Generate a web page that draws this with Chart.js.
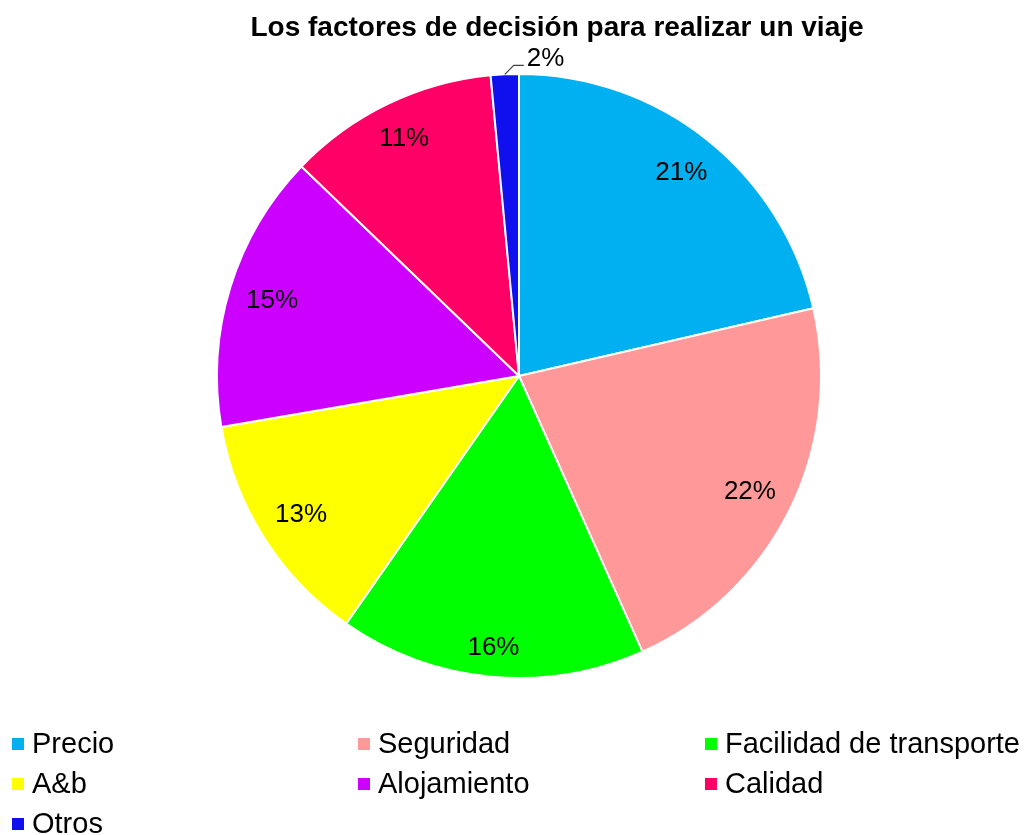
<!DOCTYPE html>
<html>
<head>
<meta charset="utf-8">
<script src="https://cdn.jsdelivr.net/npm/chart.js@4/dist/chart.umd.min.js"></script>
<style>
  html, body { margin: 0; padding: 0; background: #fff; }
  #wrap { position: relative; width: 1027px; height: 835px; overflow: hidden; font-family: "Liberation Sans", Arial, sans-serif; }
  #box { position: absolute; left: 0; top: 0; width: 1027px; height: 835px; }
  #title { position: absolute; left: 557px; top: 13px; transform: translateX(-50%); white-space: nowrap;
           font-weight: bold; font-size: 28px; line-height: 28px; color: #000; }
  .lg { position: absolute; white-space: nowrap; font-size: 29px; line-height: 29px; color: #000; }
  .mk { position: absolute; width: 12px; height: 12px; }
</style>
</head>
<body>
<div id="wrap">
  <div id="box"><canvas id="c"></canvas></div>
  <div id="title"></div>
  <div id="legend"></div>
</div>
<script>
const titleText = "Los factores de decisión para realizar un viaje";
const categories = ["Precio", "Seguridad", "Facilidad de transporte", "A&b", "Alojamiento", "Calidad", "Otros"];
const shares = [21.4, 21.9, 16.4, 12.6, 14.9, 11.3, 1.5];
const colors = ["#00B0F0", "#FF9999", "#00FF00", "#FFFF00", "#CC00FF", "#FF0066", "#1010EE"];
const outsideLabels = [false, false, false, false, false, false, true];

document.getElementById("title").textContent = titleText;

// legend: 3 columns
const legend = document.getElementById("legend");
const colX = [12, 358, 705];
const rowY = [738, 778, 818];
categories.forEach((name, i) => {
  const col = i % 3, row = Math.floor(i / 3);
  const mk = document.createElement("div");
  mk.className = "mk";
  mk.style.left = colX[col] + "px";
  mk.style.top = rowY[row] + "px";
  mk.style.background = colors[i];
  legend.appendChild(mk);
  const t = document.createElement("div");
  t.className = "lg";
  t.textContent = name;
  t.style.left = (colX[col] + 20) + "px";
  t.style.top = (rowY[row] - 9) + "px";
  legend.appendChild(t);
});

const labelPlugin = {
  id: "pctLabels",
  afterDatasetsDraw(chart) {
    const ctx = chart.ctx;
    const meta = chart.getDatasetMeta(0);
    const data = chart.data.datasets[0].data;
    const total = data.reduce((a, b) => a + b, 0);
    ctx.save();
    ctx.font = "26px 'Liberation Sans', Arial, sans-serif";
    ctx.fillStyle = "#000";
    meta.data.forEach((arc, i) => {
      const p = arc.getProps(["x", "y", "startAngle", "endAngle", "outerRadius"], true);
      const mid = (p.startAngle + p.endAngle) / 2;
      const txt = Math.round(data[i] / total * 100) + "%";
      const w = ctx.measureText(txt).width;
      const h = 26;
      const c = Math.cos(mid), s = Math.sin(mid);
      if (!outsideLabels[i]) {
        const ext = Math.abs(c) * w / 2 + Math.abs(s) * h / 2;
        const r = p.outerRadius - 15 - ext;
        ctx.textAlign = "center";
        ctx.textBaseline = "middle";
        ctx.fillText(txt, p.x + c * r, p.y + s * r + 1);
      } else {
        const ex = p.x + c * p.outerRadius, ey = p.y + s * p.outerRadius;
        const kx = ex + 9, ky = ey - 9;
        ctx.strokeStyle = "#404040";
        ctx.lineWidth = 1.2;
        ctx.beginPath();
        ctx.moveTo(ex, ey);
        ctx.lineTo(kx, ky);
        ctx.lineTo(kx + 10, ky);
        ctx.stroke();
        ctx.textAlign = "left";
        ctx.textBaseline = "middle";
        ctx.fillText(txt, kx + 13, ky - 7);
      }
    });
    ctx.restore();
  }
};

new Chart(document.getElementById("c"), {
  type: "pie",
  data: {
    labels: categories,
    datasets: [{
      data: shares,
      backgroundColor: colors,
      borderColor: "#FFFFFF",
      borderWidth: 2
    }]
  },
  options: {
    responsive: true,
    maintainAspectRatio: false,
    animation: false,
    layout: { padding: { top: 73, bottom: 156, left: 216, right: 205 } },
    plugins: {
      legend: { display: false },
      title: { display: false },
      tooltip: { enabled: false }
    }
  },
  plugins: [labelPlugin]
});
</script>
</body>
</html>
